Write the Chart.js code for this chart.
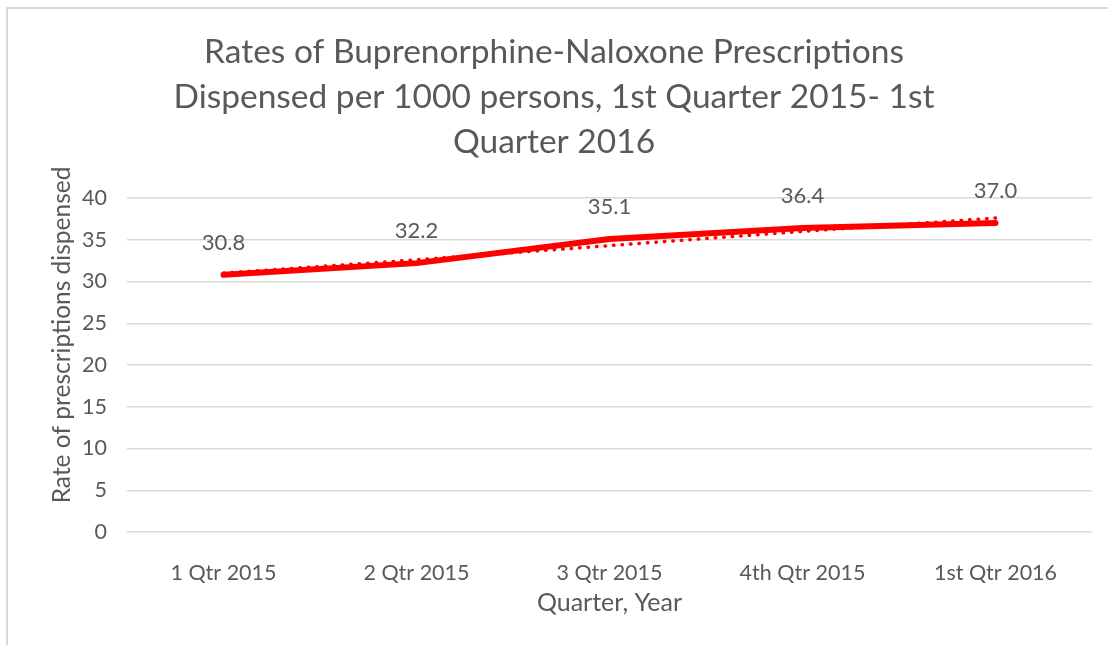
<!DOCTYPE html>
<html>
<head>
<meta charset="utf-8">
<script src="https://cdn.jsdelivr.net/npm/chart.js@4/dist/chart.umd.min.js"></script>
<style>
  html, body { margin: 0; padding: 0; background: #fff; }
  #wrap { position: relative; width: 1108px; height: 645px; overflow: hidden; }
  #frame { position: absolute; left: 6px; top: 7px; width: 1200px; height: 700px;
           border-left: 2px solid #d9d9d9; border-top: 2px solid #d9d9d9; }
  canvas { position: absolute; left: 0; top: 0; }
</style>
</head>
<body>
<div id="wrap">
  <div id="frame"></div>
  <canvas id="rateChart" width="1108" height="645"></canvas>
</div>
<script>
// Data
const quarters = ['1 Qtr 2015', '2 Qtr 2015', '3 Qtr 2015', '4th Qtr 2015', '1st Qtr 2016'];
const rates = [30.8, 32.2, 35.1, 36.4, 37.0];
const trendRates = [31.0, 32.6, 34.3, 36.0, 37.6];
const yTicks = [0, 5, 10, 15, 20, 25, 30, 35, 40];

const FONT = 'Lato';
const GREY = '#595959';

// Value labels above each point + y axis title (Excel places it a bit higher than centre)
const valueLabels = {
    id: 'valueLabels',
    afterDatasetsDraw(chart) {
        const ctx = chart.ctx;
        const meta = chart.getDatasetMeta(0);
        ctx.save();
        ctx.font = '22px ' + FONT;
        ctx.fillStyle = GREY;
        ctx.textAlign = 'center';
        ctx.textBaseline = 'middle';
        meta.data.forEach((pt, i) => {
            ctx.fillText(rates[i].toFixed(1), pt.x, pt.y - 32);
        });

        const area = chart.chartArea;
        ctx.translate(62, area.top + (area.bottom - area.top) * 0.41);
        ctx.rotate(-Math.PI / 2);
        ctx.font = '24.5px ' + FONT;
        ctx.fillText('Rate of prescriptions dispensed', 0, 0);
        ctx.restore();
    }
};

const ctx = document.getElementById('rateChart').getContext('2d');
new Chart(ctx, {
    type: 'line',
    data: {
        labels: quarters,
        datasets: [
            {
                label: 'Rate',
                data: rates,
                borderColor: '#ff0000',
                borderWidth: 6,
                borderCapStyle: 'round',
                pointRadius: 0,
                tension: 0,
            },
            {
                label: 'Linear (Rate)',
                data: trendRates,
                borderColor: '#ff0000',
                borderWidth: 3.5,
                borderCapStyle: 'round',
                borderDash: [0.5, 8],
                pointRadius: 0,
                tension: 0,
            },
        ],
    },
    options: {
        responsive: false,
        animation: false,
        layout: { padding: { left: 16, right: 16, top: 0, bottom: 20 } },
        plugins: {
            legend: { display: false },
            tooltip: { enabled: false },
            title: {
                display: true,
                text: ['Rates of Buprenorphine-Naloxone Prescriptions',
                       'Dispensed per 1000 persons, 1st Quarter 2015- 1st',
                       'Quarter 2016'],
                color: GREY,
                font: { family: FONT, size: 33.5, weight: 'normal', lineHeight: '45px' },
                padding: { top: 30, bottom: 33 },
            },
        },
        scales: {
            x: {
                offset: true,
                grid: { display: false },
                border: { display: false },
                ticks: { color: GREY, font: { family: FONT, size: 21.5 }, padding: 20, maxRotation: 0 },
                title: {
                    display: true,
                    text: 'Quarter, Year',
                    color: GREY,
                    font: { family: FONT, size: 25 },
                    padding: { top: 0, bottom: 7 },
                },
                afterFit(scale) { scale.height = 93; },
            },
            y: {
                min: 0,
                max: 40,
                afterBuildTicks(scale) { scale.ticks = yTicks.map(v => ({ value: v })); },
                grid: { color: '#d9d9d9', lineWidth: 1.5, drawTicks: false },
                border: { display: false },
                ticks: { color: GREY, font: { family: FONT, size: 21.5 }, padding: 20 },
                afterFit(scale) { scale.width = 111; },
            },
        },
    },
    plugins: [valueLabels],
});
</script>
</body>
</html>
